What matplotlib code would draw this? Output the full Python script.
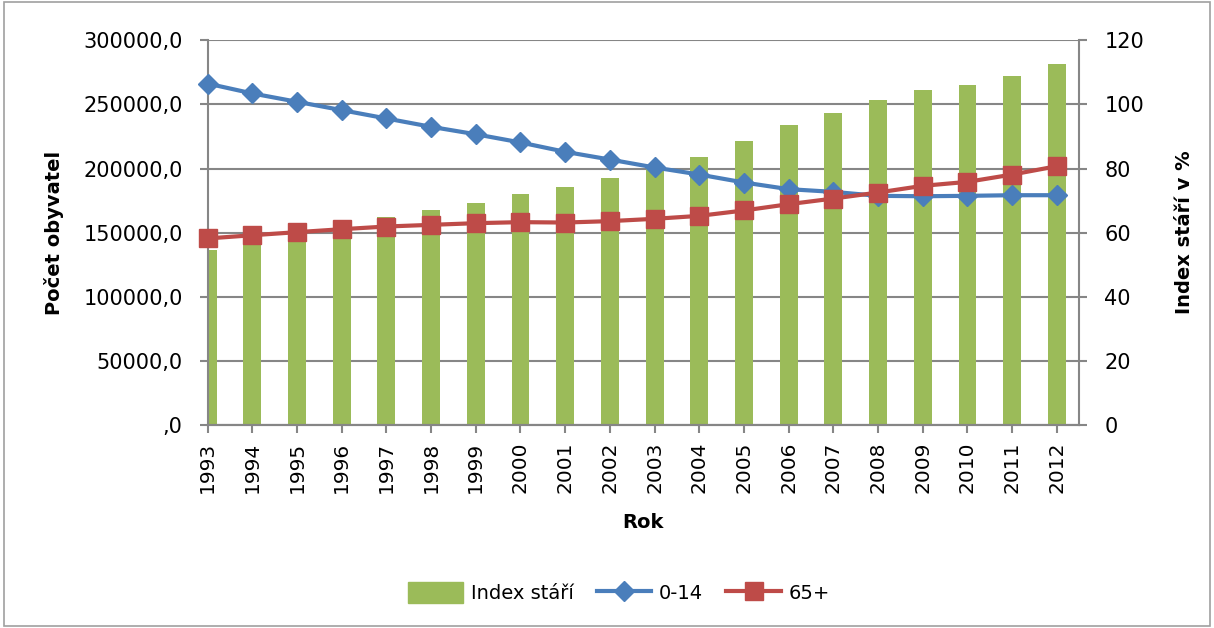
import matplotlib
matplotlib.use("Agg")
import matplotlib.pyplot as plt
from matplotlib.ticker import FuncFormatter, MultipleLocator
from matplotlib.patches import Rectangle
from matplotlib.lines import Line2D
from matplotlib.patches import Patch

years = ["1993", "1994", "1995", "1996", "1997", "1998", "1999", "2000", "2001", "2002",
         "2003", "2004", "2005", "2006", "2007", "2008", "2009", "2010", "2011", "2012"]
pop_0_14 = [266200, 258500, 252000, 245500, 239000, 232500, 226700, 220300, 213000, 207000,
            200800, 195300, 189100, 183900, 181800, 178700, 178400, 178700, 179200, 179200]
pop_65 = [145500, 148000, 150400, 152700, 154800, 156100, 157400, 158200, 157900, 159000,
          160800, 163100, 167300, 172200, 176600, 181300, 186500, 189600, 195300, 201800]
index_stari = [54.7, 57.3, 59.7, 62.2, 64.9, 67.1, 69.3, 71.9, 74.2, 76.9,
               80.1, 83.6, 88.7, 93.7, 97.4, 101.4, 104.5, 106.0, 108.9, 112.7]

GREEN = "#9BBB59"
BLUE = "#4A7EBB"
RED = "#BE4B48"
GRID = "#868686"

fig = plt.figure(figsize=(12.14, 6.28), dpi=100)
fig.patch.set_facecolor("white")
fig.add_artist(Rectangle((0.003, 0.003), 0.994, 0.994, transform=fig.transFigure,
                         fill=False, edgecolor="#A0A0A0", linewidth=1.2))

ax = fig.add_axes([0.171, 0.323, 0.718, 0.613])
ax2 = ax.twinx()
x = list(range(len(years)))

# bars on right axis (behind)
ax2.bar(x, index_stari, width=0.4, color=GREEN, zorder=2)
ax2.set_ylim(0, 120)
ax2.yaxis.set_major_locator(MultipleLocator(20))
ax2.grid(axis="y", color=GRID, linewidth=1.5, zorder=0)
ax2.set_axisbelow(True)
ax2.set_ylabel("Index stáří v %", fontsize=14, fontweight="bold", labelpad=22)

# lines on left axis (front)
ax.set_zorder(ax2.get_zorder() + 1)
ax.patch.set_visible(False)
ax.plot(x, pop_0_14, color=BLUE, linewidth=3, marker="D", markersize=10.5,
        markerfacecolor=BLUE, markeredgecolor=BLUE, zorder=3, clip_on=False)
ax.plot(x, pop_65, color=RED, linewidth=3, marker="s", markersize=13.5,
        markerfacecolor=RED, markeredgecolor=RED, zorder=4, clip_on=False)
ax.set_ylim(0, 300000)
ax.yaxis.set_major_locator(MultipleLocator(50000))

def fmt(v, pos):
    s = f"{v:.1f}".replace(".", ",")
    if s.startswith("0,"):
        s = s[1:]
    return s
ax.yaxis.set_major_formatter(FuncFormatter(fmt))
ax.set_ylabel("Počet obyvatel", fontsize=14, fontweight="bold", labelpad=14)
ax.set_xlabel("Rok", fontsize=14, fontweight="bold", labelpad=14)

ax.set_xlim(0, len(years) - 0.5)
ax2.set_xlim(0, len(years) - 0.5)
ax.set_xticks(x)
ax.set_xticklabels(years, rotation=90, fontsize=14.5)

for a in (ax, ax2):
    for s in a.spines.values():
        s.set_color(GRID)
        s.set_linewidth(1.5)
    a.spines["top"].set_visible(False)
    a.tick_params(axis="both", colors=GRID, width=1.5, length=6, labelsize=15,
                  labelcolor="black")
ax.tick_params(axis="y", pad=12)
ax2.tick_params(axis="y", pad=12)
ax.tick_params(axis="x", labelsize=14.5, pad=6)
ax2.spines["left"].set_visible(False)
ax.spines["right"].set_visible(False)

handles = [Patch(facecolor=GREEN, edgecolor=GREEN),
           Line2D([], [], color=BLUE, linewidth=3, marker="D", markersize=10),
           Line2D([], [], color=RED, linewidth=3, marker="s", markersize=13)]
fig.legend(handles, ["Index stáří", "0-14", "65+"], loc="center",
           bbox_to_anchor=(0.51, 0.056), ncol=3, frameon=False, fontsize=14,
           handlelength=2.8, handleheight=1.3, columnspacing=1.2, handletextpad=0.4)

fig.savefig("out.png", dpi=100)
